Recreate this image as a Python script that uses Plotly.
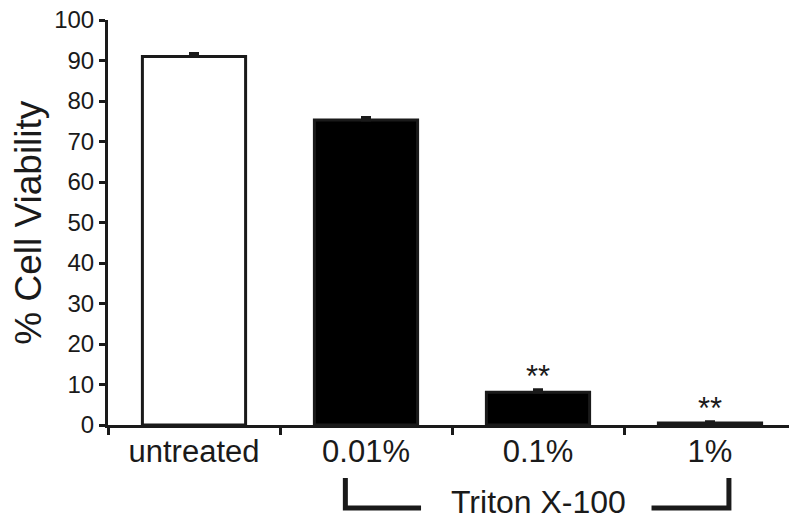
import plotly.graph_objects as go

categories = ["untreated", "0.01%", "0.1%", "1%"]
viability = [91.0, 75.3, 8.1, 0.5]
errors = [0.7, 0.6, 0.6, 0.3]
significance = ["", "", "**", "**"]
y_ticks = [0, 10, 20, 30, 40, 50, 60, 70, 80, 90, 100]
group_label = "Triton X-100"
y_title = "% Cell Viability"

FONT = "Liberation Sans, Arial, Helvetica, sans-serif"
INK = "#1a1a1a"

fig = go.Figure()
fig.add_trace(go.Bar(
    x=categories,
    y=viability,
    width=0.6,
    marker=dict(color=["white", "black", "black", "black"],
                line=dict(color=INK, width=3)),
    error_y=dict(type="data", array=errors, arrayminus=[0] * len(errors),
                 color=INK, thickness=3, width=5),
    showlegend=False,
))

for cat, v, e, s in zip(categories, viability, errors, significance):
    if s:
        fig.add_annotation(x=cat, y=v + e, text=s, showarrow=False,
                           xref="x", yref="y", yanchor="bottom", yshift=-6,
                           font=dict(family=FONT, size=31, color=INK))

# Triton X-100 bracket spanning the treated groups
left = 1 - 0.12
right = 3 + 0.11
top_y, bot_y = -0.131, -0.205
fig.add_shape(type="path", xref="x", yref="paper",
              path=f"M {left},{top_y} L {left},{bot_y} L {left + 0.44},{bot_y}",
              line=dict(color=INK, width=5))
fig.add_shape(type="path", xref="x", yref="paper",
              path=f"M {right - 0.45},{bot_y} L {right},{bot_y} L {right},{top_y}",
              line=dict(color=INK, width=5))
fig.add_annotation(x=2, y=-0.19, xref="x", yref="paper", text=group_label,
                   showarrow=False, yanchor="middle",
                   font=dict(family=FONT, size=32, color=INK))
fig.add_annotation(x=-0.116, y=0.5, xref="paper", yref="paper", text=y_title,
                   showarrow=False, textangle=-90, xanchor="center", yanchor="middle",
                   font=dict(family=FONT, size=37, color=INK))

# the page body adds an 8px offset, so the figure is sized to fill the rest
fig.update_layout(
    width=789, height=508,
    margin=dict(l=100, r=1, t=12, b=91, autoexpand=False),
    paper_bgcolor="white", plot_bgcolor="white",
    font=dict(family=FONT, color=INK),
    bargap=0.4,
)
fig.update_xaxes(
    type="category", automargin=False,
    showline=True, linecolor=INK, linewidth=3,
    ticks="outside", tickson="boundaries", ticklen=7, tickwidth=3, tickcolor=INK,
    tickfont=dict(family=FONT, size=31, color=INK),
    ticklabelstandoff=-3, ticklabeloverflow="allow",
    showgrid=False, zeroline=False,
)
fig.update_yaxes(
    range=[0, 100], tickvals=y_ticks, automargin=False,
    showline=True, linecolor=INK, linewidth=3,
    ticks="outside", ticklen=6, tickwidth=3, tickcolor=INK,
    tickfont=dict(family=FONT, size=24, color=INK),
    ticklabeloverflow="allow",
    showgrid=False, zeroline=False,
)

fig.write_html("out.html")
